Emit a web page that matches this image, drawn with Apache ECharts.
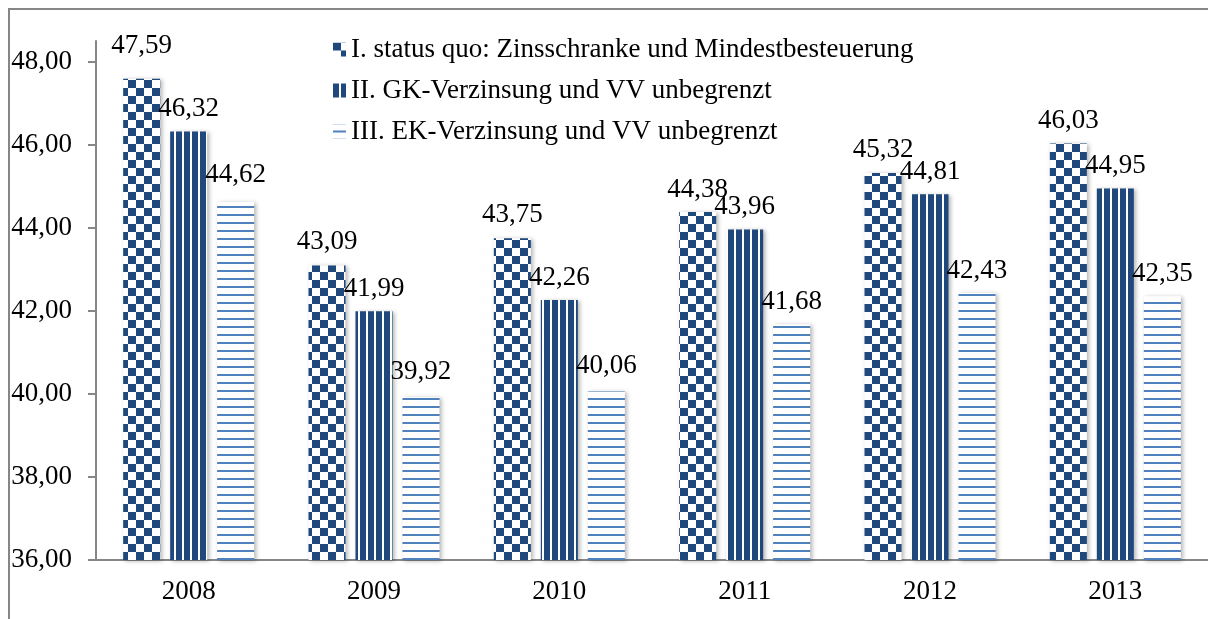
<!DOCTYPE html>
<html>
<head>
<meta charset="utf-8">
<script src="https://cdn.jsdelivr.net/npm/echarts@6/dist/echarts.min.js"></script>
<style>
  html, body { margin: 0; padding: 0; background: #fff; }
  #chart { width: 1208px; height: 619px; }
</style>
</head>
<body>
<div id="chart"></div>
<script>
// Daten
const years = ['2008', '2009', '2010', '2011', '2012', '2013']
const seriesNames = [
  'I. status quo: Zinsschranke und Mindestbesteuerung',
  'II. GK-Verzinsung und VV unbegrenzt',
  'III. EK-Verzinsung und VV unbegrenzt'
]
const statusQuo = [47.59, 43.09, 43.75, 44.38, 45.32, 46.03]
const gkVerzinsung = [46.32, 41.99, 42.26, 43.96, 44.81, 44.95]
const ekVerzinsung = [44.62, 39.92, 40.06, 41.68, 42.43, 42.35]
const yTicks = [36, 38, 40, 42, 44, 46, 48]

// Abstand der Beschriftung ueber dem Balken (wie im Original leicht unterschiedlich)
const labelDist = [
  [19, 10, 10, 9, 10, 9],
  [9, 9, 9, 9, 9, 9],
  [14, 12, 12, 9, 9, 9]
]

const DARK = '#1f497d'
const LIGHT = '#4f81bd'
const FONT = 'Liberation Serif'
const FONT_SIZE = 27

// Muster fuer die Balken
const makeCanvas = (w, h, draw) => {
  const c = document.createElement('canvas')
  c.width = w
  c.height = h
  draw(c.getContext('2d'))
  return c
}
const checker = makeCanvas(16, 16, ctx => {
  ctx.fillStyle = '#fff'
  ctx.fillRect(0, 0, 16, 16)
  ctx.fillStyle = DARK
  ctx.fillRect(0, 0, 8, 8)
  ctx.fillRect(8, 8, 8, 8)
})
const vStripes = makeCanvas(8, 8, ctx => {
  ctx.fillStyle = DARK
  ctx.fillRect(0, 0, 8, 8)
  ctx.fillStyle = '#fff'
  ctx.fillRect(6, 0, 2, 8)
})
const hStripes = makeCanvas(8, 8, ctx => {
  ctx.fillStyle = '#fff'
  ctx.fillRect(0, 0, 8, 8)
  ctx.fillStyle = LIGHT
  ctx.fillRect(0, 6, 8, 2)
})

const fmt = v => v.toFixed(2).replace('.', ',')

const barSeries = (name, values, pattern, dists) => ({
  name: name,
  type: 'bar',
  data: values.map((v, i) => ({ value: v, label: { distance: dists[i] } })),
  barWidth: 37,
  barGap: '27%',
  itemStyle: {
    color: { image: pattern, repeat: 'repeat' },
    shadowBlur: 4,
    shadowColor: 'rgba(0,0,0,0.3)',
    shadowOffsetX: 2,
    shadowOffsetY: 1
  },
  label: {
    show: true,
    position: 'top',
    distance: 9,
    color: '#000',
    fontFamily: FONT,
    fontSize: FONT_SIZE,
    formatter: p => fmt(p.value)
  }
})

const chart = echarts.init(document.getElementById('chart'), null, { renderer: 'canvas' })
chart.setOption({
  backgroundColor: '#fff',
  animation: false,
  textStyle: { fontFamily: FONT },
  graphic: [
    {
      type: 'polyline',
      shape: { points: [[9, 619], [9, 9], [1208, 9]] },
      style: { stroke: '#868686', lineWidth: 2, fill: null }
    }
  ],
  legend: {
    orient: 'vertical',
    left: 328,
    top: 29,
    icon: 'rect',
    itemWidth: 13,
    itemHeight: 14,
    itemGap: 10,
    data: seriesNames,
    textStyle: {
      color: '#000',
      fontFamily: FONT,
      fontSize: FONT_SIZE,
      lineHeight: 31
    }
  },
  grid: {
    left: 96,
    top: 41,
    width: 1124.5,
    height: 519,
    containLabel: false
  },
  xAxis: {
    type: 'category',
    data: years,
    axisLine: { lineStyle: { color: '#868686', width: 2 } },
    axisTick: { show: false },
    axisLabel: {
      color: '#000',
      fontFamily: FONT,
      fontSize: FONT_SIZE,
      margin: 18
    }
  },
  yAxis: {
    type: 'value',
    min: 36,
    max: 48.5,
    interval: 2,
    splitLine: { show: false },
    axisLine: { show: true, lineStyle: { color: '#868686', width: 2 } },
    axisTick: {
      show: true,
      length: 8,
      customValues: yTicks,
      lineStyle: { color: '#868686', width: 2 }
    },
    axisLabel: {
      color: '#000',
      fontFamily: FONT,
      fontSize: FONT_SIZE,
      margin: 24,
      customValues: yTicks,
      formatter: v => fmt(v)
    }
  },
  series: [
    barSeries(seriesNames[0], statusQuo, checker, labelDist[0]),
    barSeries(seriesNames[1], gkVerzinsung, vStripes, labelDist[1]),
    barSeries(seriesNames[2], ekVerzinsung, hStripes, labelDist[2])
  ]
})
</script>
</body>
</html>
